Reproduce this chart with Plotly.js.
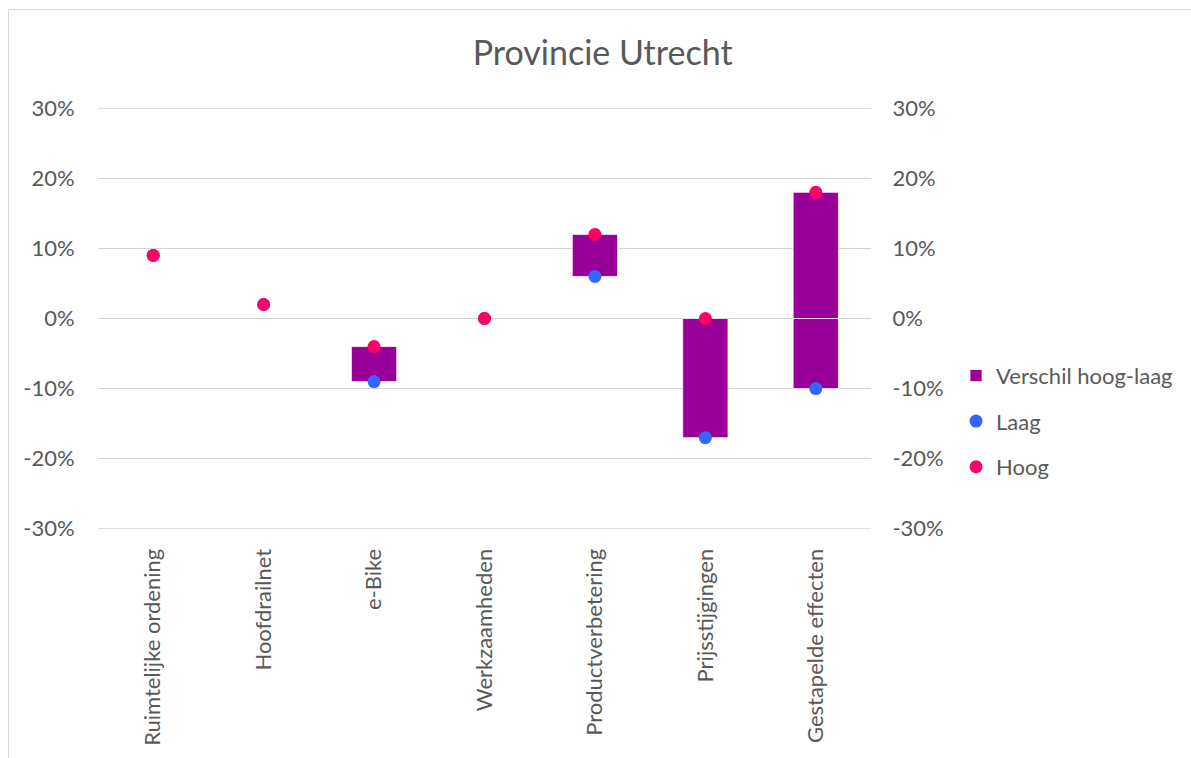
<!DOCTYPE html>
<html>
<head>
<meta charset="utf-8">
<script src="https://cdn.plot.ly/plotly-3.0.1.min.js"></script>
<style>
html,body{margin:0;padding:0;background:#fff;}
#wrap{position:relative;width:1191px;height:758px;overflow:hidden;}
#frame{position:absolute;left:8px;top:9px;width:1400px;height:900px;border-top:1px solid #d9d9d9;border-left:1px solid #d9d9d9;pointer-events:none;}
#chart{position:absolute;left:0;top:0;width:1191px;height:758px;}
</style>
</head>
<body>
<div id="wrap"><div id="chart"></div><div id="frame"></div></div>
<script>
const categories = ['Ruimtelijke ordening','Hoofdrailnet','e-Bike','Werkzaamheden','Productverbetering','Prijsstijgingen','Gestapelde effecten'];
const hoog = [0.09, 0.02, -0.04, 0.00, 0.12, 0.00, 0.18];
const laag = [0.09, 0.02, -0.09, 0.00, 0.06, -0.17, -0.10];
const yTicks = [-0.3, -0.2, -0.1, 0, 0.1, 0.2, 0.3];
const yTickLabels = ['-30%','-20%','-10%','0%','10%','20%','30%'];

const FONT = 'Lato, "Open Sans", sans-serif';
const GREY = '#595959';
const PURPLE = '#990099';
const GRID = '#d4d4d4';

// Excel-style stacked segments: negative part and positive part of the hoog-laag range
const negBase = laag.map(l => Math.min(l, 0));
const negLen = laag.map((l,i) => { const v = Math.min(hoog[i],0) - Math.min(l,0); return v > 0 ? v : null; });
const posBase = laag.map(l => Math.max(l, 0));
const posLen = hoog.map((h,i) => { const v = Math.max(h,0) - Math.max(laag[i],0); return v > 0 ? v : null; });

const barLine = {color:'rgba(255,255,255,0.75)', width:1};
const traces = [
  {type:'bar', x:categories, y:negLen, base:negBase, width:0.41, name:'Verschil hoog-laag',
   marker:{color:PURPLE, line:barLine}, legendgroup:'a', showlegend:true, hoverinfo:'skip'},
  {type:'bar', x:categories, y:posLen, base:posBase, width:0.41, name:'Verschil hoog-laag',
   marker:{color:PURPLE, line:barLine}, legendgroup:'a', showlegend:false, hoverinfo:'skip'},
  {type:'scatter', mode:'markers', x:categories, y:laag, name:'Laag',
   marker:{color:'#3366FF', size:13}, legendgroup:'b'},
  {type:'scatter', mode:'markers', x:categories, y:hoog, name:'Hoog',
   marker:{color:'#FF0066', size:13}, legendgroup:'c'}
];

const yRange = [-0.3003, 0.3003];
const yCommon = {range:yRange, tickvals:yTicks, ticktext:yTickLabels, showline:false, zeroline:false,
  tickfont:{family:FONT, size:22, color:GREY}, ticks:'outside', tickcolor:'rgba(0,0,0,0)'};

// edge gridlines (Plotly omits gridlines at the plot edges)
const edgeLines = [yTicks[0], yTicks[yTicks.length-1]].map(v => ({
  type:'line', xref:'paper', yref:'y', x0:0, x1:1, y0:v, y1:v, layer:'below',
  line:{color:GRID, width:1}
}));

const layout = {
  width:1191, height:758,
  margin:{l:98, r:320, t:108, b:229},
  paper_bgcolor:'rgba(0,0,0,0)', plot_bgcolor:'rgba(0,0,0,0)',
  barmode:'overlay',
  title:{text:'Provincie Utrecht', font:{family:FONT, size:34, color:GREY}, x:0.506, xanchor:'center', y:0.93, yanchor:'middle'},
  xaxis:{type:'category', range:[-0.5,6.5], tickangle:-90, showgrid:false, showline:false, zeroline:false,
    tickfont:{family:FONT, size:22, color:GREY}, ticks:'outside', tickcolor:'rgba(0,0,0,0)', ticklen:10},
  yaxis:Object.assign({}, yCommon, {showgrid:true, gridcolor:GRID, gridwidth:1, ticklen:18}),
  yaxis2:Object.assign({}, yCommon, {overlaying:'y', side:'right', showgrid:false, ticklen:16}),
  legend:{x:1.110, xanchor:'left', y:0.256, yanchor:'middle', font:{family:FONT, size:22, color:GREY},
    traceorder:'grouped', tracegroupgap:14, bgcolor:'rgba(0,0,0,0)', itemwidth:30},
  shapes:edgeLines,
  showlegend:true
};

// invisible trace so the right-hand axis is drawn
traces.push({type:'scatter', x:[categories[0]], y:[0], yaxis:'y2', mode:'markers', marker:{opacity:0}, showlegend:false, hoverinfo:'skip'});

Plotly.newPlot('chart', traces, layout, {displayModeBar:false, staticPlot:true});
</script>
</body>
</html>
